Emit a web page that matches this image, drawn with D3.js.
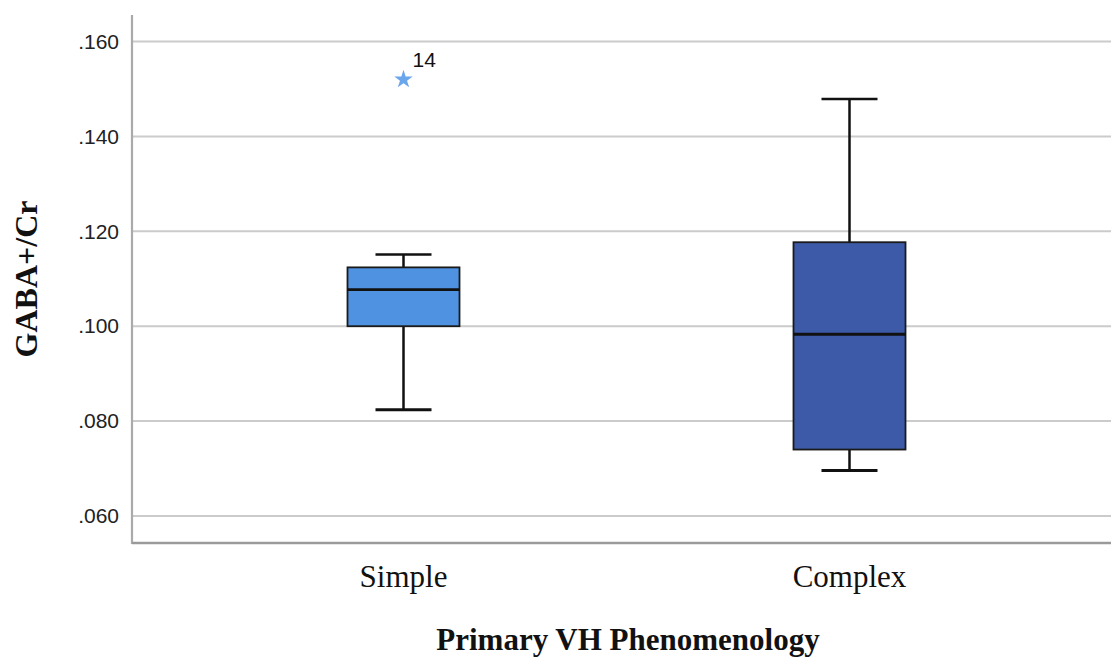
<!DOCTYPE html>
<html>
<head>
<meta charset="utf-8">
<script src="https://cdn.jsdelivr.net/npm/d3@7"></script>
<style>
  html, body { margin: 0; padding: 0; background: #fff; }
  svg { display: block; }
</style>
</head>
<body>
<svg id="chart" width="1111" height="657"></svg>
<script>
// Groups and their five-number summaries (GABA+/Cr)
const categories = ["Simple", "Complex"];
const whiskerLow  = [0.0824, 0.0696];
const quartile1   = [0.1000, 0.0740];
const medians     = [0.1077, 0.0983];
const quartile3   = [0.1124, 0.1177];
const whiskerHigh = [0.1151, 0.1479];
const boxColors   = ["#4f92e2", "#3d5aa8"];

// Extreme values: group, value, case label
const extremeGroup = ["Simple"];
const extremeValue = [0.1520];
const extremeLabel = ["14"];

const yTicks = [0.060, 0.080, 0.100, 0.120, 0.140, 0.160];

const svg = d3.select("#chart");
const plot = { left: 132, right: 1111, top: 15, bottom: 543 };

const y = d3.scaleLinear().domain([0.0543, 0.1656]).range([plot.bottom, plot.top]);
const x = d3.scaleBand().domain(categories).range([180.5, 1072.5]).paddingInner(0).paddingOuter(0);
const boxW = 112, capW = 56;
const cx = c => x(c) + x.bandwidth() / 2;

// Horizontal grid lines
svg.append("g").selectAll("line").data(yTicks).join("line")
  .attr("x1", plot.left).attr("x2", plot.right)
  .attr("y1", d => y(d)).attr("y2", d => y(d))
  .attr("stroke", "#cbcbcb").attr("stroke-width", 2);

// Y axis with tick labels
const yAxis = d3.axisLeft(y).tickValues(yTicks)
  .tickFormat(d => d3.format(".3f")(d).replace(/^0/, ""))
  .tickSize(0).tickPadding(13);
const gy = svg.append("g").attr("transform", `translate(${plot.left},0)`).call(yAxis);
gy.select(".domain").remove();
gy.selectAll("text")
  .attr("font-family", "'Liberation Sans', Arial, sans-serif")
  .attr("font-size", 21).attr("fill", "#222");

// Axis lines
svg.append("line")
  .attr("x1", plot.left).attr("x2", plot.left)
  .attr("y1", plot.top).attr("y2", plot.bottom + 1)
  .attr("stroke", "#aaaaaa").attr("stroke-width", 2.2);
svg.append("line")
  .attr("x1", plot.left).attr("x2", plot.right)
  .attr("y1", plot.bottom).attr("y2", plot.bottom)
  .attr("stroke", "#9a9a9a").attr("stroke-width", 2.4);

// X category labels
const xAxis = d3.axisBottom(x).tickSize(0).tickPadding(22);
const gx = svg.append("g").attr("transform", `translate(0,${plot.bottom})`).call(xAxis);
gx.select(".domain").remove();
gx.selectAll("text")
  .attr("font-family", "'Liberation Serif', 'Times New Roman', serif")
  .attr("font-size", 31).attr("fill", "#111");

// Boxes and whiskers
const groups = categories.map((c, i) => ({
  c, lo: whiskerLow[i], q1: quartile1[i], med: medians[i], q3: quartile3[i], hi: whiskerHigh[i], color: boxColors[i]
}));
const g = svg.append("g").selectAll("g").data(groups).join("g");

// Stems
g.append("line")
  .attr("x1", d => cx(d.c)).attr("x2", d => cx(d.c))
  .attr("y1", d => y(d.hi)).attr("y2", d => y(d.q3))
  .attr("stroke", "#111").attr("stroke-width", 2.5);
g.append("line")
  .attr("x1", d => cx(d.c)).attr("x2", d => cx(d.c))
  .attr("y1", d => y(d.q1)).attr("y2", d => y(d.lo))
  .attr("stroke", "#111").attr("stroke-width", 2.5);
// Caps
g.append("line")
  .attr("x1", d => cx(d.c) - capW / 2).attr("x2", d => cx(d.c) + capW / 2)
  .attr("y1", d => y(d.hi)).attr("y2", d => y(d.hi))
  .attr("stroke", "#111").attr("stroke-width", 2.6);
g.append("line")
  .attr("x1", d => cx(d.c) - capW / 2).attr("x2", d => cx(d.c) + capW / 2)
  .attr("y1", d => y(d.lo)).attr("y2", d => y(d.lo))
  .attr("stroke", "#111").attr("stroke-width", 3);
// Box
g.append("rect")
  .attr("x", d => cx(d.c) - boxW / 2).attr("width", boxW)
  .attr("y", d => y(d.q3)).attr("height", d => y(d.q1) - y(d.q3))
  .attr("fill", d => d.color).attr("stroke", "#1a1a1a").attr("stroke-width", 1.8);
// Median
g.append("line")
  .attr("x1", d => cx(d.c) - boxW / 2).attr("x2", d => cx(d.c) + boxW / 2)
  .attr("y1", d => y(d.med)).attr("y2", d => y(d.med))
  .attr("stroke", "#111").attr("stroke-width", 2.8);

// Extreme values
const ext = extremeGroup.map((c, i) => ({ c, v: extremeValue[i], label: extremeLabel[i] }));
svg.append("g").selectAll("path").data(ext).join("path")
  .attr("d", d3.symbol().type(d3.symbolStar).size(105))
  .attr("transform", d => `translate(${cx(d.c)},${y(d.v)})`)
  .attr("fill", "#6aa6ec");
svg.append("g").selectAll("text").data(ext).join("text")
  .attr("x", d => cx(d.c) + 9).attr("y", d => y(d.v) - 12.5)
  .attr("font-family", "'Liberation Sans', Arial, sans-serif")
  .attr("font-size", 21).attr("fill", "#111")
  .text(d => d.label);

// Axis titles
svg.append("text")
  .attr("x", 628).attr("y", 650)
  .attr("text-anchor", "middle")
  .attr("font-family", "'Liberation Serif', 'Times New Roman', serif")
  .attr("font-weight", "bold").attr("font-size", 31).attr("fill", "#111")
  .text("Primary VH Phenomenology");
svg.append("text")
  .attr("transform", "translate(37,279) rotate(-90)")
  .attr("text-anchor", "middle")
  .attr("font-family", "'Liberation Serif', 'Times New Roman', serif")
  .attr("font-weight", "bold").attr("font-size", 32).attr("fill", "#111")
  .text("GABA+/Cr");
</script>
</body>
</html>
